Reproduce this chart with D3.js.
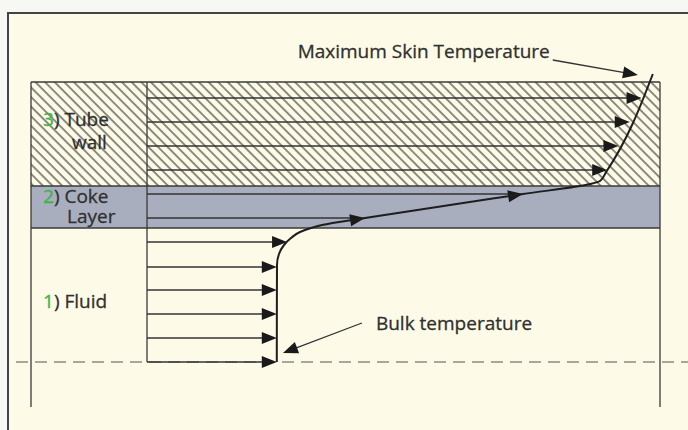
<!DOCTYPE html>
<html>
<head>
<meta charset="utf-8">
<script src="https://cdn.jsdelivr.net/npm/d3@7"></script>
<style>
    html, body { margin: 0; padding: 0; background: #f7f7f3; }
    svg { display: block; font-family: "Open Sans", "Noto Sans", sans-serif; }
</style>
</head>
<body>
<div id="chart"></div>
<script>
// temperature (0 = inner reference line, 100 = right edge) vs. position (0 = bulk centre line)
const profileTemp = [25.3, 25.34, 25.73, 26.71, 28.07, 29.82, 31.97, 34.11, 42.5, 73.3, 86.4, 88.3, 89.5, 98.6];
const profilePos  = [0,    4.85,  5.4,   5.85,  6.2,   6.5,   6.7,   6.85,  7.2,  8.4,  8.9,  9.05, 9.5,  14.4];

const fluidRows = [0, 1.2, 2.4, 3.6, 4.75, 6.0];
const fluidTips = [25.3, 25.3, 25.3, 25.3, 25.3, 27.3];
const cokeRows = [7.2, 8.4];
const cokeTips = [42.5, 73.3];
const wallRows = [9.6, 10.8, 12.0, 13.2];
const wallTips = [89.7, 91.9, 94.1, 96.4];

const layerNames = ["Tube wall", "Coke Layer", "Fluid"];
const layerFrom  = [8.8, 6.7, -2.25];
const layerTo    = [14, 8.8, 6.7];

const labelNum   = ["3", "2", "1"];
const labelLine1 = [") Tube", ") Coke", ") Fluid"];
const labelLine2 = ["wall", "Layer", ""];
const labelPos   = [11.8, 7.95, 2.7];

const maxSkinText = "Maximum Skin Temperature";
const bulkText = "Bulk temperature";
const maxSkinArrow = [[79.1, 15.1], [95.7, 14.35]];
const bulkArrow = [[41.9, 1.95], [26.5, 0.45]];

const width = 688;
const height = 430;
const left = 31, inner = 147, right = 660;

const svg = d3.select('#chart').append('svg')
    .attr('width', width)
    .attr('height', height);

const x = d3.scaleLinear().domain([0, 100]).range([inner, right]);
const y = d3.scaleLinear().domain([0, 14]).range([362, 82]);

const ink = '#303030';

// page
svg.append('rect')
    .attr('x', 8).attr('y', 13)
    .attr('width', width - 8).attr('height', height - 13)
    .attr('fill', '#fdfbe7');
svg.append('path')
    .attr('d', `M8,${height}V13H${width}`)
    .attr('fill', 'none')
    .attr('stroke', '#444')
    .attr('stroke-width', 2);

const defs = svg.append('defs');
const hatch = defs.append('pattern')
    .attr('id', 'hatch')
    .attr('patternUnits', 'userSpaceOnUse')
    .attr('width', 6.8).attr('height', 10)
    .attr('patternTransform', 'rotate(-45)');
hatch.append('line')
    .attr('x1', 1).attr('y1', 0).attr('x2', 1).attr('y2', 10)
    .attr('stroke', '#42423e')
    .attr('stroke-width', 1.2);

// layers
const fills = ['url(#hatch)', '#a9aebf', 'none'];
layerNames.forEach((name, i) => {
    svg.append('rect')
        .attr('class', 'layer')
        .attr('x', left)
        .attr('y', y(layerTo[i]))
        .attr('width', right - left)
        .attr('height', y(layerFrom[i]) - y(layerTo[i]))
        .attr('fill', fills[i]);
});

// frame lines
const frame = svg.append('g').attr('stroke', '#3a3a3a').attr('stroke-width', 1.3).attr('fill', 'none');
frame.append('line').attr('x1', left).attr('x2', right).attr('y1', y(14)).attr('y2', y(14));
frame.append('line').attr('x1', left).attr('x2', right).attr('y1', y(8.8)).attr('y2', y(8.8));
frame.append('line').attr('x1', left).attr('x2', right).attr('y1', y(6.7)).attr('y2', y(6.7));
frame.append('line').attr('x1', left).attr('x2', left).attr('y1', y(14)).attr('y2', y(-2.25));
frame.append('line').attr('x1', right).attr('x2', right).attr('y1', y(14)).attr('y2', y(-2.25));
frame.append('line').attr('x1', x(0)).attr('x2', x(0)).attr('y1', y(14)).attr('y2', y(0));

// bulk centre line
svg.append('line')
    .attr('x1', 16).attr('x2', width)
    .attr('y1', y(0)).attr('y2', y(0))
    .attr('stroke', '#555')
    .attr('stroke-width', 1.2)
    .attr('stroke-dasharray', '12,7');

function arrowHead(g, tx, ty, angle) {
    g.append('path')
        .attr('d', 'M0,0L-15,-6L-15,6Z')
        .attr('transform', `translate(${tx},${ty}) rotate(${angle})`)
        .attr('fill', '#1a1a1a');
}

// arrows per row
const rows = svg.append('g').attr('class', 'rows');
const allRows = fluidRows.concat(cokeRows, wallRows);
const allTips = fluidTips.concat(cokeTips, wallTips);
const cokeAngle = Math.atan2(y(cokeRows[1]) - y(cokeRows[0]), x(cokeTips[1]) - x(cokeTips[0])) * 180 / Math.PI;
allRows.forEach((r, i) => {
    rows.append('line')
        .attr('x1', x(0)).attr('x2', x(allTips[i]) - 4)
        .attr('y1', y(r)).attr('y2', y(r))
        .attr('stroke', '#333')
        .attr('stroke-width', 1.3);
    const isCoke = cokeRows.includes(r);
    arrowHead(rows, x(allTips[i]), y(r), isCoke ? cokeAngle : 0);
});

// temperature profile
const profile = profileTemp.map((t, i) => ({t: t, p: profilePos[i]}));
const lineGenerator = d3.line()
    .x(d => x(d.t))
    .y(d => y(d.p))
    .curve(d3.curveMonotoneY);
svg.append('path')
    .attr('d', lineGenerator(profile))
    .attr('fill', 'none')
    .attr('stroke', '#1e1e1e')
    .attr('stroke-width', 2);

// annotations
function annotate(pts) {
    const x0 = x(pts[0][0]), y0 = y(pts[0][1]);
    const x1 = x(pts[1][0]), y1 = y(pts[1][1]);
    const ang = Math.atan2(y1 - y0, x1 - x0) * 180 / Math.PI;
    svg.append('line')
        .attr('x1', x0).attr('y1', y0)
        .attr('x2', x1 - 8 * Math.cos(ang * Math.PI / 180))
        .attr('y2', y1 - 8 * Math.sin(ang * Math.PI / 180))
        .attr('stroke', '#333')
        .attr('stroke-width', 1.3);
    arrowHead(svg, x1, y1, ang);
}
annotate(maxSkinArrow);
annotate(bulkArrow);

function label(sel) {
    return sel.attr('font-size', 19)
        .attr('fill', ink)
        .attr('stroke', ink)
        .attr('stroke-width', 0.3);
}

label(svg.append('text'))
    .attr('x', x(maxSkinArrow[0][0]) - 3)
    .attr('y', y(maxSkinArrow[0][1]) - 2)
    .attr('text-anchor', 'end')
    .text(maxSkinText);

label(svg.append('text'))
    .attr('x', x(bulkArrow[0][0]) + 14)
    .attr('y', y(bulkArrow[0][1]) + 7)
    .text(bulkText);

// layer labels, second line as tspan of the same text
labelNum.forEach((n, i) => {
    const t = label(svg.append('text'))
        .attr('x', 43)
        .attr('y', y(labelPos[i]));
    t.append('tspan').attr('fill', '#3db34a').attr('stroke', '#3db34a').text(n);
    t.append('tspan').text(labelLine1[i]);
    if (labelLine2[i]) {
        t.append('tspan')
            .attr('x', i == 0 ? 72 : 67)
            .attr('dy', i == 0 ? 23 : 20)
            .text(labelLine2[i]);
    }
});
</script>
</body>
</html>
